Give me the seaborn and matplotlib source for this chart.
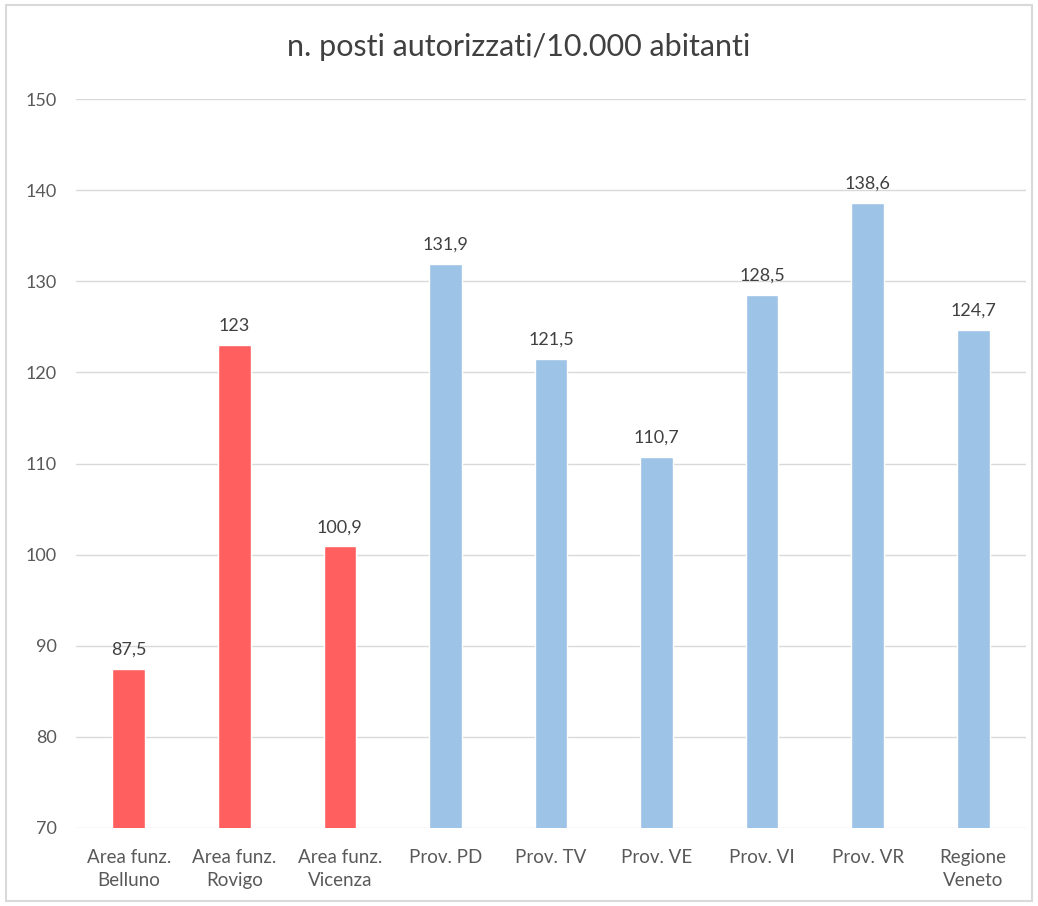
import pandas as pd
import matplotlib.pyplot as plt
import seaborn as sns
from matplotlib.patches import Rectangle

categorie = ["Area funz.\nBelluno", "Area funz.\nRovigo", "Area funz.\nVicenza",
             "Prov. PD", "Prov. TV", "Prov. VE", "Prov. VI", "Prov. VR",
             "Regione\nVeneto"]
valori = [87.5, 123, 100.9, 131.9, 121.5, 110.7, 128.5, 138.6, 124.7]
etichette = ["87,5", "123", "100,9", "131,9", "121,5", "110,7", "128,5", "138,6", "124,7"]
gruppi = ["area"] * 3 + ["prov"] * 6

df = pd.DataFrame({"cat": categorie, "val": valori, "gruppo": gruppi})

sns.set_style("white")
plt.rcParams["font.family"] = ["Lato", "DejaVu Sans"]
grigio = "#595959"

fig = plt.figure(figsize=(10.38, 9.06), dpi=100)
ax = fig.add_axes([0.0732, 0.0861, 0.9152, 0.8046])

sns.barplot(data=df, x="cat", y="val", hue="gruppo",
            palette={"area": "#FF5F5F", "prov": "#9DC3E6"}, saturation=1,
            dodge=False, width=0.31, legend=False, ax=ax, zorder=3)

ax.set_ylim(70, 150)
ax.set_yticks(range(70, 151, 10))
ax.set_xlim(-0.5, len(categorie) - 0.5)
ax.yaxis.grid(True, color="#D9D9D9", linewidth=1, zorder=0)
ax.set_axisbelow(True)
for s in ax.spines.values():
    s.set_visible(False)
ax.set_xlabel("")
ax.set_ylabel("")
ax.tick_params(axis="y", length=0, pad=14, labelsize=13, labelcolor=grigio)
ax.tick_params(axis="x", length=0, pad=15, labelsize=13.5, labelcolor=grigio)
for lab in ax.get_xticklabels():
    lab.set_linespacing(1.45)

for i, (v, t) in enumerate(zip(valori, etichette)):
    ax.annotate(t, (i, v), xytext=(0, 8), textcoords="offset points",
                ha="center", va="bottom", fontsize=13, color="#404040")

fig.text(0.5, 0.948, "n. posti autorizzati/10.000 abitanti", ha="center",
         va="center", fontsize=22, color="#404040")

fig.patches.append(Rectangle((0.006, 0.006), 0.988, 0.988, transform=fig.transFigure,
                             fill=False, edgecolor="#D9D9D9", linewidth=1.5))

plt.savefig("out.png", dpi=100)
plt.close()
